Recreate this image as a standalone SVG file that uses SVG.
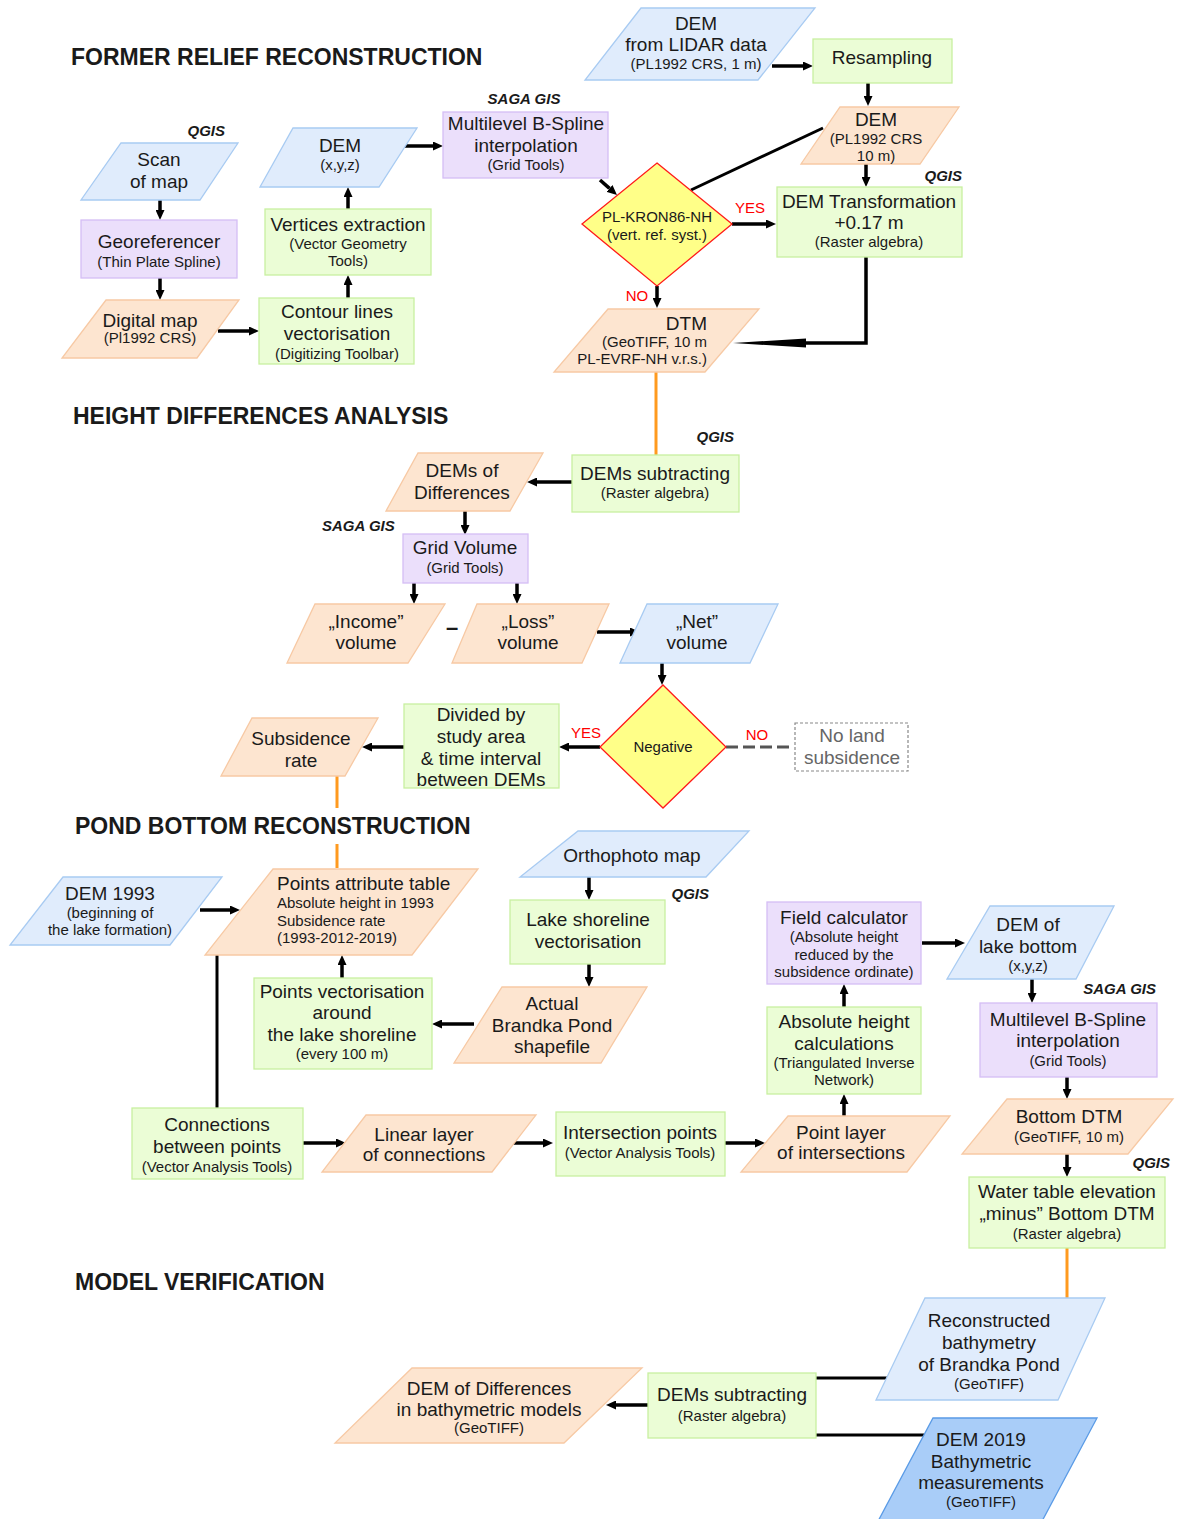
<svg xmlns="http://www.w3.org/2000/svg" width="1184" height="1519" viewBox="0 0 1184 1519">
<style>
.b{fill:#e0ecfc;stroke:#a8cbf2;stroke-width:1.3}
.o{fill:#fde5d0;stroke:#f7c9a4;stroke-width:1.3}
.g{fill:#ebfdd6;stroke:#c8f0a0;stroke-width:1.3}
.p{fill:#ebdffb;stroke:#d5bef5;stroke-width:1.3}
.d{fill:#ffff88;stroke:#ff1a1a;stroke-width:1.3}
.db{fill:#a9cdf8;stroke:#5a9be6;stroke-width:1.3}
text{font-family:"Liberation Sans",Arial,sans-serif;fill:#1a1a1a}
.t{font-size:19px;text-anchor:middle}
.s{font-size:15px}
.l{text-anchor:start}
.e{text-anchor:end}
.h{font-size:23px;font-weight:bold}
.tool{font-size:15px;font-weight:bold;font-style:italic}
.red{font-size:15px;fill:#ff0000;text-anchor:middle}
.arr{stroke:#000;stroke-width:3.5;fill:none;marker-end:url(#ah)}
.ln{stroke:#000;stroke-width:3;fill:none}
.or{stroke:#ff9a1f;stroke-width:3;fill:none}
</style>
<defs>
<marker id="ah" markerWidth="10" markerHeight="9" refX="0" refY="4.5" orient="auto" markerUnits="userSpaceOnUse"><path d="M0,0 L10,4.5 L0,9 z" fill="#000"/></marker>
</defs>

<text class="h" x="71" y="65">FORMER RELIEF RECONSTRUCTION</text>
<text class="h" x="73" y="424">HEIGHT DIFFERENCES ANALYSIS</text>
<text class="h" x="75" y="834">POND BOTTOM RECONSTRUCTION</text>
<text class="h" x="75" y="1290">MODEL VERIFICATION</text>

<text class="tool e" x="225" y="136">QGIS</text>
<text class="tool" x="524" y="104" text-anchor="middle">SAGA GIS</text>
<text class="tool e" x="962" y="181">QGIS</text>
<text class="tool e" x="734" y="442">QGIS</text>
<text class="tool" x="322" y="531">SAGA GIS</text>
<text class="tool e" x="709" y="899">QGIS</text>
<text class="tool e" x="1156" y="994">SAGA GIS</text>
<text class="tool e" x="1170" y="1168">QGIS</text>

<g id="connectors">
<path class="arr" d="M160,200 V210"/>
<path class="arr" d="M160,278 V290"/>
<path class="arr" d="M218,331 H249"/>
<path class="arr" d="M348,298 V285"/>
<path class="arr" d="M348,209 V197"/>
<path class="arr" d="M403,146 H433"/>
<path class="arr" d="M772,66 H803"/>
<path class="arr" d="M868,83 V96"/>
<path class="arr" d="M866,164 V177"/>
<path class="ln" d="M823,128 L691,190"/>
<path class="arr" d="M600,180 L609.5,188.4"/>
<path class="arr" d="M732,224 H766"/>
<path class="arr" d="M657,286 V298"/>
<path d="M866,257 V343 H805" stroke="#000" stroke-width="3.5" fill="none"/>
<path d="M806,338.5 L806,347.5 L733,343 z" fill="#000"/>
<path class="or" d="M656,372 V455"/>
<path class="arr" d="M572,482 H537"/>
<path class="arr" d="M465,511 V525"/>
<path class="arr" d="M414,583 V594"/>
<path class="arr" d="M517,583 V594"/>
<path class="arr" d="M597,632 H630"/>
<path class="arr" d="M662,663 V675"/>
<path class="arr" d="M600,747 H569"/>
<path class="arr" d="M404,747 H372"/>
<path d="M726,747 H793" stroke="#555" stroke-width="3" stroke-dasharray="12,5" fill="none"/>
<path class="or" d="M337,776 V808 M337,844 V868"/>
<path class="arr" d="M200,910 H230"/>
<path class="ln" d="M217,955 V1108"/>
<path class="arr" d="M342,978 V965"/>
<path class="arr" d="M589,877 V890"/>
<path class="arr" d="M589,964 V977"/>
<path class="arr" d="M474,1024 H442"/>
<path class="arr" d="M922,943 H955"/>
<path class="arr" d="M1032,979 V993"/>
<path class="arr" d="M1067,1077 V1089"/>
<path class="arr" d="M844,1007 V994"/>
<path class="arr" d="M844,1117 V1104"/>
<path class="arr" d="M1067,1154 V1167"/>
<path class="or" d="M1067,1248 V1299"/>
<path class="arr" d="M303,1143 H336"/>
<path class="arr" d="M510,1143 H543"/>
<path class="arr" d="M725,1143 H755"/>
<path class="ln" d="M815,1378 H887"/>
<path class="arr" d="M648,1405 H616"/>
<path class="ln" d="M816,1435 H924"/>
</g>

<g id="scan"><polygon class="b" points="121,143 238,143 200,200 81,200"/><text class="t" x="159" y="166">Scan</text><text class="t" x="159" y="188">of map</text></g>
<g id="georef"><rect class="p" x="81" y="220" width="156" height="58"/><text class="t" x="159" y="248">Georeferencer</text><text class="t s" x="159" y="267">(Thin Plate Spline)</text></g>
<g id="digital"><polygon class="o" points="106,300 239,300 197,358 62,358"/><text class="t" x="150" y="327">Digital map</text><text class="t s" x="150" y="343">(Pl1992 CRS)</text></g>
<g id="contour"><rect class="g" x="259" y="298" width="155" height="66"/><text class="t" x="337" y="318">Contour lines</text><text class="t" x="337" y="340">vectorisation</text><text class="t s" x="337" y="359">(Digitizing Toolbar)</text></g>
<g id="vertices"><rect class="g" x="265" y="209" width="166" height="66"/><text class="t" x="348" y="231">Vertices extraction</text><text class="t s" x="348" y="249">(Vector Geometry</text><text class="t s" x="348" y="266">Tools)</text></g>
<g id="demxyz"><polygon class="b" points="293,128 417,128 379,187 260,187"/><text class="t" x="340" y="152">DEM</text><text class="t s" x="340" y="170">(x,y,z)</text></g>
<g id="multilevel1"><rect class="p" x="443" y="112" width="165" height="66"/><text class="t" x="526" y="130">Multilevel B-Spline</text><text class="t" x="526" y="152">interpolation</text><text class="t s" x="526" y="170">(Grid Tools)</text></g>
<g id="lidar"><polygon class="b" points="641,8 815,8 758,80 585,80"/><text class="t" x="696" y="30">DEM</text><text class="t" x="696" y="51">from LIDAR data</text><text class="t s" x="696" y="69">(PL1992 CRS, 1 m)</text></g>
<g id="resampling"><rect class="g" x="813" y="39" width="139" height="44"/><text class="t" x="882" y="64">Resampling</text></g>
<g id="dem10"><polygon class="o" points="840,107 959,107 920,164 801,164"/><text class="t" x="876" y="126">DEM</text><text class="t s" x="876" y="144">(PL1992 CRS</text><text class="t s" x="876" y="161">10 m)</text></g>
<g id="transform"><rect class="g" x="777" y="187" width="185" height="70"/><text class="t" x="869" y="208">DEM Transformation</text><text class="t" x="869" y="229">+0.17 m</text><text class="t s" x="869" y="247">(Raster algebra)</text></g>
<g id="kron"><polygon class="d" points="657,163 732,224 657,286 582,224"/><text class="t s" x="657" y="222">PL-KRON86-NH</text><text class="t s" x="657" y="240">(vert. ref. syst.)</text></g>
<text class="red" x="750" y="213">YES</text>
<text class="red" x="637" y="301">NO</text>
<g id="dtm"><polygon class="o" points="608,309 759,309 705,372 554,372"/><text class="t e" x="707" y="330">DTM</text><text class="t s e" x="707" y="347">(GeoTIFF, 10 m</text><text class="t s e" x="707" y="364">PL-EVRF-NH v.r.s.)</text></g>

<g id="demssub1"><rect class="g" x="572" y="455" width="167" height="57"/><text class="t" x="655" y="480">DEMs subtracting</text><text class="t s" x="655" y="498">(Raster algebra)</text></g>
<g id="demsdiff"><polygon class="o" points="418,453 543,453 510,511 386,511"/><text class="t" x="462" y="477">DEMs of</text><text class="t" x="462" y="499">Differences</text></g>
<g id="gridvol"><rect class="p" x="403" y="534" width="125" height="49"/><text class="t" x="465" y="554">Grid Volume</text><text class="t s" x="465" y="573">(Grid Tools)</text></g>
<g id="income"><polygon class="o" points="315,604 445,604 408,663 287,663"/><text class="t" x="366" y="628">„Income”</text><text class="t" x="366" y="649">volume</text></g>
<text x="452" y="635" font-size="22" font-weight="bold" text-anchor="middle">–</text>
<g id="loss"><polygon class="o" points="477,604 609,604 582,663 452,663"/><text class="t" x="528" y="628">„Loss”</text><text class="t" x="528" y="649">volume</text></g>
<g id="net"><polygon class="b" points="647,604 778,604 750,663 620,663"/><text class="t" x="697" y="628">„Net”</text><text class="t" x="697" y="649">volume</text></g>
<g id="negative"><polygon class="d" points="663,685 726,747 663,808 600,747"/><text class="t s" x="663" y="752">Negative</text></g>
<text class="red" x="586" y="738">YES</text>
<text class="red" x="757" y="740">NO</text>
<g id="divided"><rect class="g" x="404" y="704" width="155" height="84"/><text class="t" x="481" y="721">Divided by</text><text class="t" x="481" y="743">study area</text><text class="t" x="481" y="765">&amp; time interval</text><text class="t" x="481" y="786">between DEMs</text></g>
<g id="subsidence"><polygon class="o" points="252,718 378,718 345,776 221,776"/><text class="t" x="301" y="745">Subsidence</text><text class="t" x="301" y="767">rate</text></g>
<g id="noland"><rect x="795" y="723" width="113" height="48" fill="#fff" stroke="#888" stroke-width="1.2" stroke-dasharray="3,2"/><text class="t" x="852" y="742" style="fill:#666">No land</text><text class="t" x="852" y="764" style="fill:#666">subsidence</text></g>

<g id="dem1993"><polygon class="b" points="63,877 222,877 170,945 10,945"/><text class="t" x="110" y="900">DEM 1993</text><text class="t s" x="110" y="918">(beginning of</text><text class="t s" x="110" y="935">the lake formation)</text></g>
<g id="pointstable"><polygon class="o" points="273,869 478,869 412,955 205,955"/><text class="t l" x="277" y="890">Points attribute table</text><text class="t s l" x="277" y="908">Absolute height in 1993</text><text class="t s l" x="277" y="926">Subsidence rate</text><text class="t s l" x="277" y="943">(1993-2012-2019)</text></g>
<g id="pointsvec"><rect class="g" x="254" y="978" width="178" height="91"/><text class="t" x="342" y="998">Points vectorisation</text><text class="t" x="342" y="1019">around</text><text class="t" x="342" y="1041">the lake shoreline</text><text class="t s" x="342" y="1059">(every 100 m)</text></g>
<g id="ortho"><polygon class="b" points="578,831 749,831 706,877 520,877"/><text class="t" x="632" y="862">Orthophoto map</text></g>
<g id="lake"><rect class="g" x="510" y="900" width="155" height="64"/><text class="t" x="588" y="926">Lake shoreline</text><text class="t" x="588" y="948">vectorisation</text></g>
<g id="actual"><polygon class="o" points="502,987 647,987 601,1063 454,1063"/><text class="t" x="552" y="1010">Actual</text><text class="t" x="552" y="1032">Brandka Pond</text><text class="t" x="552" y="1053">shapefile</text></g>
<g id="fieldcalc"><rect class="p" x="767" y="902" width="154" height="82"/><text class="t" x="844" y="924">Field calculator</text><text class="t s" x="844" y="942">(Absolute height</text><text class="t s" x="844" y="960">reduced by the</text><text class="t s" x="844" y="977">subsidence ordinate)</text></g>
<g id="demlake"><polygon class="b" points="990,906 1114,906 1076,979 947,979"/><text class="t" x="1028" y="931">DEM of</text><text class="t" x="1028" y="953">lake bottom</text><text class="t s" x="1028" y="971">(x,y,z)</text></g>
<g id="multilevel2"><rect class="p" x="980" y="1003" width="177" height="74"/><text class="t" x="1068" y="1026">Multilevel B-Spline</text><text class="t" x="1068" y="1047">interpolation</text><text class="t s" x="1068" y="1066">(Grid Tools)</text></g>
<g id="abs"><rect class="g" x="767" y="1007" width="154" height="87"/><text class="t" x="844" y="1028">Absolute height</text><text class="t" x="844" y="1050">calculations</text><text class="t s" x="844" y="1068">(Triangulated Inverse</text><text class="t s" x="844" y="1085">Network)</text></g>
<g id="bottomdtm"><polygon class="o" points="1007,1099 1173,1099 1128,1154 962,1154"/><text class="t" x="1069" y="1123">Bottom DTM</text><text class="t s" x="1069" y="1142">(GeoTIFF, 10 m)</text></g>
<g id="water"><rect class="g" x="969" y="1177" width="196" height="71"/><text class="t" x="1067" y="1198">Water table elevation</text><text class="t" x="1067" y="1220">„minus” Bottom DTM</text><text class="t s" x="1067" y="1239">(Raster algebra)</text></g>
<g id="connections"><rect class="g" x="132" y="1108" width="171" height="71"/><text class="t" x="217" y="1131">Connections</text><text class="t" x="217" y="1153">between points</text><text class="t s" x="217" y="1172">(Vector Analysis Tools)</text></g>
<g id="linear"><polygon class="o" points="366,1115 536,1115 492,1172 322,1172"/><text class="t" x="424" y="1141">Linear layer</text><text class="t" x="424" y="1161">of connections</text></g>
<g id="intersection"><rect class="g" x="556" y="1112" width="169" height="64"/><text class="t" x="640" y="1139">Intersection points</text><text class="t s" x="640" y="1158">(Vector Analysis Tools)</text></g>
<g id="pointlayer"><polygon class="o" points="788,1116 950,1116 907,1172 741,1172"/><text class="t" x="841" y="1139">Point layer</text><text class="t" x="841" y="1159">of intersections</text></g>

<g id="recon"><polygon class="b" points="925,1298 1105,1298 1058,1400 876,1400"/><text class="t" x="989" y="1327">Reconstructed</text><text class="t" x="989" y="1349">bathymetry</text><text class="t" x="989" y="1371">of Brandka Pond</text><text class="t s" x="989" y="1389">(GeoTIFF)</text></g>
<g id="demsub2"><rect class="g" x="648" y="1373" width="168" height="65"/><text class="t" x="732" y="1401">DEMs subtracting</text><text class="t s" x="732" y="1421">(Raster algebra)</text></g>
<g id="demdiff2"><polygon class="o" points="412,1368 642,1368 564,1443 335,1443"/><text class="t" x="489" y="1395">DEM of Differences</text><text class="t" x="489" y="1416">in bathymetric models</text><text class="t s" x="489" y="1433">(GeoTIFF)</text></g>
<g id="dem2019"><polygon class="db" points="933,1418 1097,1418 1040,1525 876,1525"/><text class="t" x="981" y="1446">DEM 2019</text><text class="t" x="981" y="1468">Bathymetric</text><text class="t" x="981" y="1489">measurements</text><text class="t s" x="981" y="1507">(GeoTIFF)</text></g>
</svg>
